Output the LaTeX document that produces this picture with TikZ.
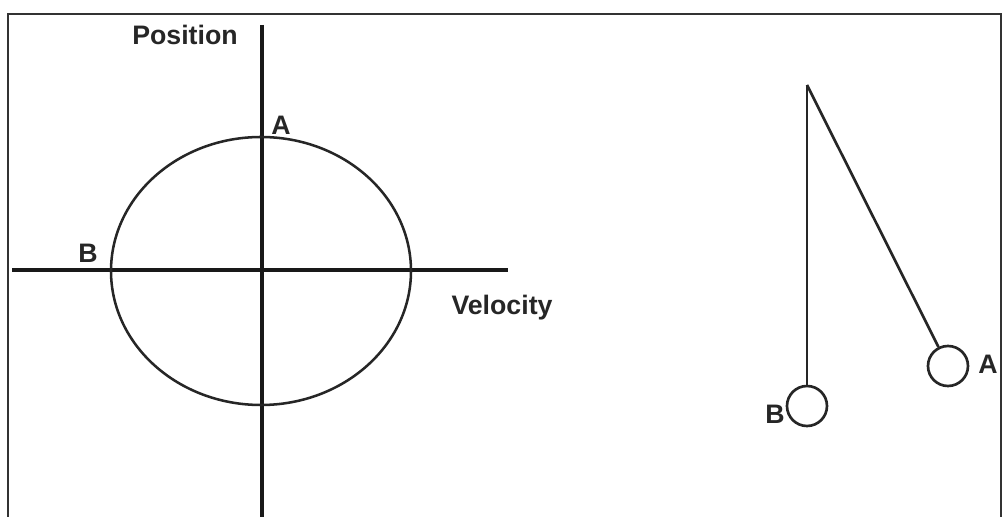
\documentclass[tikz,border=0pt]{standalone}
\usepackage{fontspec}
\setmainfont{Liberation Sans}
\usetikzlibrary{positioning}

\tikzset{
    axis/.style={line width=2.9pt, black!90},
    orbit/.style={line width=1.8pt, black!85},
    string/.style={line width=1.9pt, black!85},
    bob/.style={circle, draw=black!85, line width=1.9pt, minimum size=40*0.025cm, inner sep=0pt},
    lbl/.style={font=\fontsize{19}{22}\selectfont\bfseries, text=black!85, inner sep=0pt, anchor=base}
}

\begin{document}
\begin{tikzpicture}[x=0.025cm, y=-0.025cm]
    \useasboundingbox (0,0) rectangle (1002,517);

    % Frame
    \draw[line width=1.3pt, black!80] (8,517) -- (8,14) -- (1001,14) -- (1001,517);

    % Axes
    \coordinate (ytop) at (262,25);
    \coordinate (ybot) at (262,517);
    \coordinate (xleft) at (12,270);
    \coordinate (xright) at (508,270);
    \draw[axis] (ytop) -- (ybot);
    \draw[axis] (xleft) -- (xright);
    \node[lbl] (position) at (185,45) {Position};
    \node[lbl] (velocity) at (502,315) {Velocity};

    % Phase orbit
    \draw[orbit] (261,271) ellipse (150 and 134);
    \node[lbl] (pa) at (281,135) {A};
    \node[lbl] (pb) at (88,263) {B};

    % Pendulum
    \coordinate (pivot) at (807,85);
    \node[bob] (bobb) at (807,406) {};
    \node[bob] (boba) at (948,366) {};
    \draw[string] (pivot) -- (bobb);
    \draw[string] (pivot) -- (boba);
    \node[lbl] (la) at (988,374) {A};
    \node[lbl] (lb) at (775,424) {B};

\end{tikzpicture}
\end{document}
